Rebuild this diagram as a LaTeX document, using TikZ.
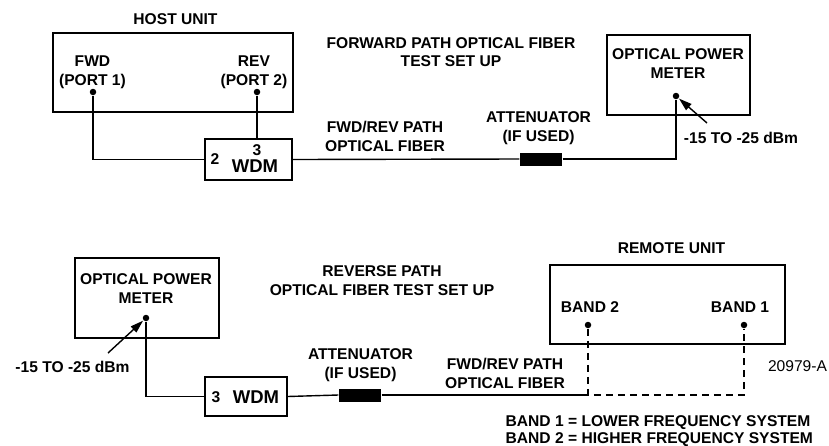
\documentclass[tikz,border=0pt]{standalone}
\usepackage{fontspec}
\setmainfont{Liberation Sans}
\usetikzlibrary{arrows.meta}
\begin{document}
\begin{tikzpicture}[x=1pt,y=-1pt,
  line width=1.4pt,
  lbl/.style={font=\fontsize{15.6}{19.5}\selectfont\bfseries, align=center, inner sep=0pt, anchor=base},
  biglbl/.style={lbl, font=\fontsize{18.5}{22}\selectfont\bfseries},
  note/.style={font=\fontsize{15.6}{19.5}\selectfont, inner sep=0pt, anchor=base},
  unit/.style={draw, rectangle, inner sep=0pt, line width=1.4pt},
  port/.style={circle, fill, inner sep=0pt, minimum size=6.5pt},
  atten/.style={rectangle, fill, inner sep=0pt, minimum width=42pt, minimum height=13pt},
  fiber/.style={line width=1.4pt},
  pointer/.style={-{Triangle[length=13pt,width=8pt]}, line width=1.4pt},
  dashline/.style={line width=1.4pt, dash pattern=on 7pt off 5pt}
]
\useasboundingbox (0,0) rectangle (829,445);

% ---------- FORWARD PATH ----------
\node[unit, minimum width=240pt, minimum height=79pt] (host) at (173,72.5) {};
\node[lbl] (hostlbl) at (175.5,24.6) {HOST UNIT};
\node[lbl] (fwdlbl) at (92.5,85.6) {FWD\\(PORT 1)};
\node[lbl] (revlbl) at (254,85.6) {REV\\(PORT 2)};
\node[port] (fwd) at (93,92) {};
\node[port] (rev) at (257,92) {};

\node[lbl] (fwdhead) at (451,66.6) {FORWARD PATH OPTICAL FIBER\\[-1.5pt]TEST SET UP};

\node[unit, minimum width=87pt, minimum height=41pt] (wdmA) at (248.5,159.5) {};
\node[lbl] (wdmA3) at (257,155.6) {3};
\node[lbl] (wdmA2) at (215,164.6) {2};
\node[biglbl] (wdmAt) at (255,172.6) {WDM};

\node[lbl] (fiberA) at (385,151.6) {FWD/REV PATH\\OPTICAL FIBER};
\node[atten] (attA) at (541,159) {};
\node[lbl] (attAlbl) at (538.5,141.6) {ATTENUATOR\\(IF USED)};

\node[unit, minimum width=143pt, minimum height=80pt] (opmA) at (678.5,75) {};
\node[lbl] (opmAlbl) at (678,78.6) {OPTICAL POWER\\METER};
\node[port] (opmAdot) at (676,96) {};
\node[lbl] (levA) at (741,143.6) {-15 TO -25 dBm};
\coordinate (tailA) at (707,123);

\draw[fiber] (fwd) |- (wdmA.west);
\draw[fiber] (rev) -- (rev |- wdmA.north);
\draw[fiber] (wdmA.east) -- (attA.west);
\draw[fiber] (attA.east) -| (opmAdot);
\draw[pointer] (tailA) -- (opmAdot);

% ---------- REVERSE PATH ----------
\node[unit, minimum width=144pt, minimum height=80pt] (opmB) at (147,298) {};
\node[lbl] (opmBlbl) at (146,303.6) {OPTICAL POWER\\METER};
\node[port] (opmBdot) at (146,318) {};
\node[lbl] (levB) at (72.5,372.6) {-15 TO -25 dBm};
\coordinate (tailB) at (108,353);

\node[lbl] (revhead) at (382,295.6) {REVERSE PATH\\OPTICAL FIBER TEST SET UP};

\node[unit, minimum width=82pt, minimum height=39pt] (wdmB) at (246,396.5) {};
\node[lbl] (wdmB3) at (216,402.6) {3};
\node[biglbl] (wdmBt) at (256,403.6) {WDM};

\node[atten] (attB) at (360,395) {};
\node[lbl] (attBlbl) at (360.5,378.6) {ATTENUATOR\\(IF USED)};

\node[lbl] (fiberB) at (505,388.6) {FWD/REV PATH\\OPTICAL FIBER};

\node[unit, minimum width=235pt, minimum height=79pt] (remote) at (667.5,304.5) {};
\node[lbl] (remotelbl) at (671.5,253.6) {REMOTE UNIT};
\node[lbl] (band2lbl) at (590,312.6) {BAND 2};
\node[lbl] (band1lbl) at (740,312.6) {BAND 1};
\node[port] (band2) at (588,325) {};
\node[port] (band1) at (744,325) {};
\coordinate (fiberend) at (588,395);

\node[note] (fig) at (797.5,371.6) {20979-A};
\node[lbl, align=left, anchor=base west] (legend) at (505,443) {BAND 1 = LOWER FREQUENCY SYSTEM\\[-2.5pt]BAND 2 = HIGHER FREQUENCY SYSTEM};

\draw[fiber] (opmBdot) |- (wdmB.west);
\draw[fiber] (wdmB.east) -- (attB.west);
\draw[fiber] (attB.east) -- (fiberend);
\draw[dashline] (band2) -- (fiberend) -| (band1);
\draw[pointer] (tailB) -- (opmBdot);
\end{tikzpicture}
\end{document}
